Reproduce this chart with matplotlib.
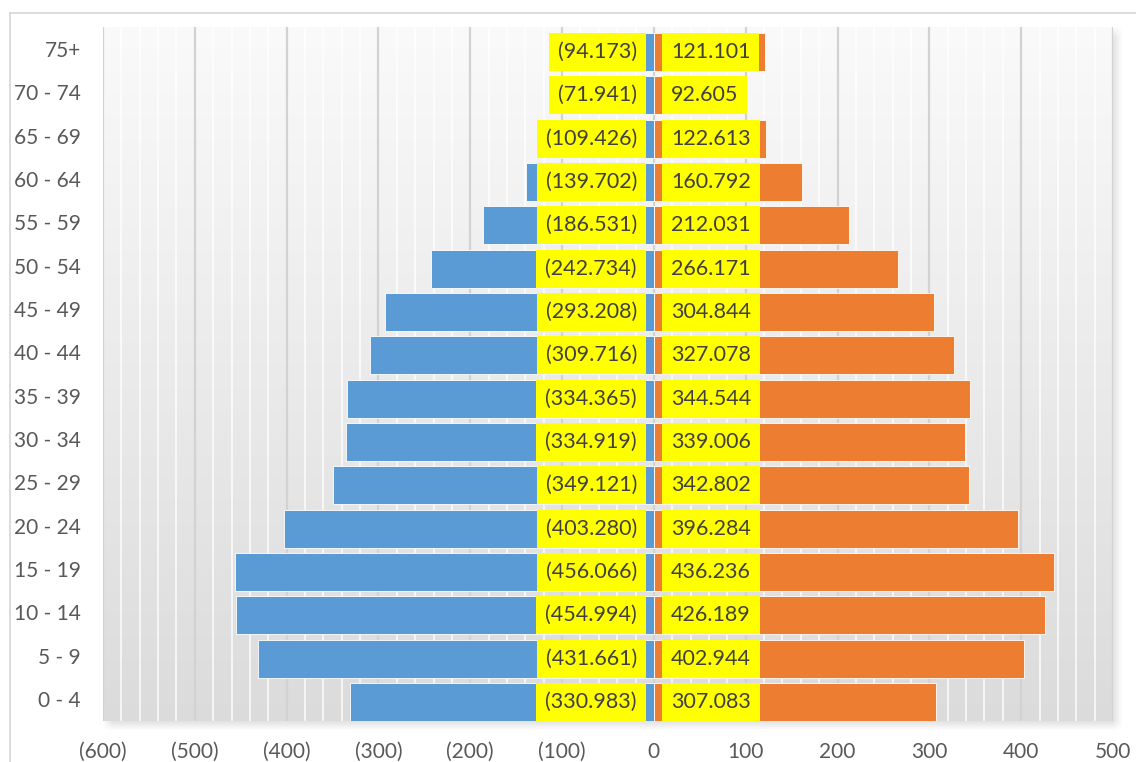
import numpy as np
import matplotlib
matplotlib.use("Agg")
import matplotlib.pyplot as plt
from matplotlib.ticker import MultipleLocator, FuncFormatter
from matplotlib.lines import Line2D
from matplotlib.transforms import ScaledTranslation

plt.rcParams['font.family'] = ['Lato', 'DejaVu Sans']

# age groups, bottom to top
ages = ['0 - 4', '5 - 9', '10 - 14', '15 - 19', '20 - 24', '25 - 29', '30 - 34',
        '35 - 39', '40 - 44', '45 - 49', '50 - 54', '55 - 59', '60 - 64',
        '65 - 69', '70 - 74', '75+']
left_vals = [330.983, 431.661, 454.994, 456.066, 403.280, 349.121, 334.919,
             334.365, 309.716, 293.208, 242.734, 186.531, 139.702, 109.426,
             71.941, 94.173]
right_vals = [307.083, 402.944, 426.189, 436.236, 396.284, 342.802, 339.006,
              344.544, 327.078, 304.844, 266.171, 212.031, 160.792, 122.613,
              92.605, 121.101]

W, H = 1136, 762
fig = plt.figure(figsize=(W / 100, H / 100), dpi=100)

# plot area in pixels
px0, px1, py_top, py_bot = 103, 1113, 27, 721
ax = fig.add_axes([px0 / W, (H - py_bot) / H, (px1 - px0) / W, (py_bot - py_top) / H])

# soft drop shadow behind the plot area
bg = fig.add_axes([0, 0, 1, 1], zorder=-1)
bg.axis('off')
xx = np.arange(W)[None, :]
yy = np.arange(H)[:, None]
blur, off = 10.0, 4


def soft(t, a, b):
    return np.clip((t - a) / blur + 0.5, 0, 1) * np.clip((b - t) / blur + 0.5, 0, 1)


alpha = soft(xx, px0 + off, px1 + off) * soft(yy, py_top + off, py_bot + off) * 0.22
shadow = np.zeros((H, W, 4))
shadow[..., :3] = 0.45
shadow[..., 3] = alpha
bg.imshow(shadow, extent=[0, 1, 0, 1], aspect='auto', origin='upper')
bg.set_xlim(0, 1)
bg.set_ylim(0, 1)

# chart frame
fig.add_artist(Line2D([10 / W, 10 / W], [0, 1 - 13 / H], color='#d9d9d9', lw=1.3))
fig.add_artist(Line2D([10 / W, 1], [1 - 13 / H, 1 - 13 / H], color='#d9d9d9', lw=1.3))

y = np.arange(len(ages))
xmin, xmax = -600, 500
ylo, yhi = -0.438, 15.577

# gradient fill of the plot area
top_c = np.array([0.98, 0.98, 0.98])
bot_c = np.array([0.86, 0.86, 0.86])
t = np.linspace(0, 1, 256)[:, None]
grad = (top_c * (1 - t) + bot_c * t)[:, None, :]
ax.imshow(grad, extent=[xmin, xmax, ylo, yhi], aspect='auto', origin='upper', zorder=0.1)

ax.set_axisbelow(True)
ax.xaxis.set_major_locator(MultipleLocator(100))
ax.xaxis.set_minor_locator(MultipleLocator(20))
ax.grid(which='minor', axis='x', color='white', lw=1.2, alpha=0.85)
ax.grid(which='major', axis='x', color='#d2d2d2', lw=1.6)

bar_h = 0.874
ax.barh(y, [-v for v in left_vals], height=bar_h, color='#5b9bd5',
        edgecolor='white', linewidth=0.6, zorder=2)
ax.barh(y, right_vals, height=bar_h, color='#ed7d31',
        edgecolor='white', linewidth=0.6, zorder=2)

fs = 15.5
pad = 9 * 0.72 / fs
for yi, lv, rv in zip(y, left_vals, right_vals):
    ax.annotate(f"({lv:.3f})", xy=(0, yi), xytext=(-17, 0), textcoords='offset pixels',
                ha='right', va='center', fontsize=fs, color='#404040', zorder=3,
                bbox=dict(boxstyle=f'square,pad={pad}', fc='#ffff00', ec='none'))
    ax.annotate(f"{rv:.3f}", xy=(0, yi), xytext=(17, 0), textcoords='offset pixels',
                ha='left', va='center', fontsize=fs, color='#404040', zorder=3,
                bbox=dict(boxstyle=f'square,pad={pad}', fc='#ffff00', ec='none'))

ax.set_xlim(xmin, xmax)
ax.set_ylim(ylo, yhi)
ax.set_yticks(y)
ax.set_yticklabels(ages)
ax.xaxis.set_major_formatter(FuncFormatter(
    lambda v, p: "0" if abs(v) < 1e-9 else (f"({abs(v):.0f})" if v < 0 else f"{v:.0f}")))
ax.tick_params(axis='both', which='both', length=0, labelsize=15, labelcolor='#595959')
ax.tick_params(axis='y', pad=16)
ax.tick_params(axis='x', pad=15)
# category labels sit a little above the bar centres
lift = ScaledTranslation(0, 3 / 100, fig.dpi_scale_trans)
for lab in ax.get_yticklabels():
    lab.set_transform(lab.get_transform() + lift)
for s in ax.spines.values():
    s.set_visible(False)

fig.savefig('out.png', dpi=100)
